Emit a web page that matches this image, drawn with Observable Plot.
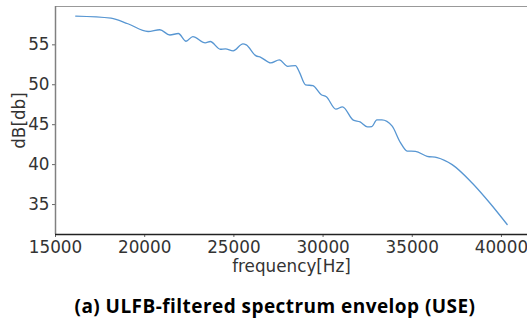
<!DOCTYPE html>
<html>
<head>
<meta charset="utf-8">
<script src="https://cdn.jsdelivr.net/npm/d3@7"></script>
<script src="https://cdn.jsdelivr.net/npm/@observablehq/plot@0.6"></script>
<style>
  html, body { margin: 0; padding: 0; background: #fff; overflow: hidden; }
  #wrap { position: relative; width: 527px; height: 320px; }
  #caption { position: absolute; left: 0; width: 550px; top: 294px; text-align: center;
    font-family: "Open Sans", sans-serif; font-weight: 700; font-size: 19px; letter-spacing: 0.45px; line-height: 24px; color: #000; }
</style>
</head>
<body>
<div id="wrap"><div id="chart"></div><div id="caption">(a) ULFB-filtered spectrum envelop (USE)</div></div>
<script>
const frequency = [16132, 18113, 19058, 20190, 20846, 21412, 21887, 22317, 22697, 23393, 23676, 24242, 24525, 24960, 25509, 25696, 26222, 26505, 27071, 27547, 28016, 28452, 28678, 29018, 29431, 29901, 30184, 30716, 31089, 31695, 32074, 32487, 32731, 33014, 33297, 33863, 34338, 34714, 35179, 35835, 36396, 37236, 38357, 39383, 40320];
const dB = [58.60, 58.35, 57.64, 56.67, 56.89, 56.23, 56.42, 55.45, 56.04, 55.25, 55.42, 54.45, 54.50, 54.25, 55.13, 55.00, 53.65, 53.44, 52.74, 53.11, 52.31, 52.40, 51.55, 50.00, 49.88, 48.75, 48.50, 46.95, 47.24, 45.57, 45.35, 44.72, 44.76, 45.60, 45.60, 44.85, 42.75, 41.70, 41.66, 41.04, 40.88, 40.00, 37.70, 35.10, 32.50];
const xTicks = [15000, 20000, 25000, 30000, 35000, 40000];
const yTicks = [35, 40, 45, 50, 55];
const xDomain = [15000, 41460];
const yDomain = [31.25, 59.8];

const data = frequency.map((f, i) => ({f, v: dB[i]}));

const chart = Plot.plot({
  width: 527,
  height: 280,
  marginLeft: 55,
  marginRight: 0,
  marginTop: 6,
  marginBottom: 46,
  style: {fontFamily: "DejaVu Sans", fontSize: "16.8px", color: "#333", overflow: "visible"},
  x: {domain: xDomain},
  y: {domain: yDomain},
  marks: [
    Plot.axisX({ticks: xTicks, tickFormat: d => String(d), tickSize: 3, tickPadding: 4, stroke: "#666",
      label: "frequency[Hz]", labelAnchor: "center", labelArrow: "none", labelOffset: 37}),
    Plot.axisY({ticks: yTicks, tickSize: 3, tickPadding: 3, stroke: "#666",
      label: "dB[db]", labelAnchor: "center", labelArrow: "none", labelOffset: 42}),
    Plot.ruleY([yDomain[1]], {stroke: "#999", strokeWidth: 1}),
    Plot.ruleX([xDomain[0]], {stroke: "#808080", strokeWidth: 1.5}),
    Plot.ruleY([yDomain[0]], {stroke: "#222", strokeWidth: 1.5}),
    Plot.line(data, {x: "f", y: "v", stroke: "#5796d2", strokeWidth: 1.3, curve: "monotone-x"})
  ]
});
document.getElementById("chart").appendChild(chart);
</script>
</body>
</html>
